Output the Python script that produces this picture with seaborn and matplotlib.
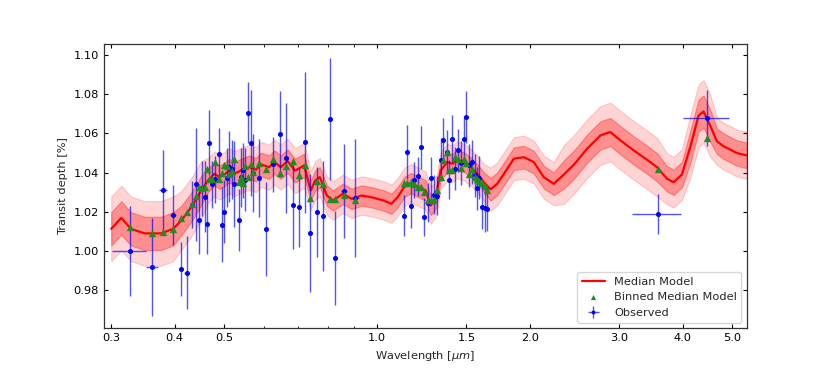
import numpy as np
import matplotlib
matplotlib.use('Agg')
import matplotlib.pyplot as plt
from matplotlib.ticker import FixedLocator, FormatStrFormatter, NullFormatter, LogLocator
import seaborn as sns

# Median retrieved model (wavelength in micron, transit depth in %)
model_wl = [0.300, 0.314, 0.328, 0.349, 0.376, 0.397, 0.412, 0.431, 0.451, 0.465,
            0.479, 0.490, 0.501, 0.512, 0.524, 0.540, 0.561, 0.578, 0.591, 0.614,
            0.628, 0.647, 0.667, 0.690, 0.719, 0.741, 0.756, 0.772, 0.797, 0.820,
            0.857, 0.892, 0.933, 0.977, 1.030, 1.068, 1.098, 1.131, 1.166, 1.210,
            1.247, 1.276, 1.305, 1.335, 1.376, 1.407, 1.439, 1.483, 1.529, 1.576,
            1.624, 1.674, 1.725, 1.778, 1.860, 1.946, 2.036, 2.130, 2.229, 2.332,
            2.440, 2.592, 2.753, 2.880, 3.014, 3.200, 3.400, 3.558, 3.722, 3.836,
            3.984, 4.136, 4.295, 4.393, 4.528, 4.667, 4.809, 4.957, 5.109, 5.345]
model_depth = [1.0113, 1.0169, 1.0113, 1.0090, 1.0090, 1.0113, 1.0155, 1.0223, 1.0309, 1.0360,
               1.0394, 1.0377, 1.0390, 1.0411, 1.0394, 1.0411, 1.0428, 1.0415, 1.0442, 1.0428,
               1.0454, 1.0428, 1.0459, 1.0410, 1.0437, 1.0309, 1.0360, 1.0377, 1.0283, 1.0258,
               1.0292, 1.0266, 1.0283, 1.0274, 1.0258, 1.0241, 1.0274, 1.0326, 1.0346, 1.0326,
               1.0309, 1.0232, 1.0266, 1.0411, 1.0454, 1.0445, 1.0466, 1.0454, 1.0428, 1.0394,
               1.0351, 1.0315, 1.0343, 1.0394, 1.0471, 1.0479, 1.0454, 1.0377, 1.0343, 1.0390,
               1.0440, 1.0522, 1.0590, 1.0607, 1.0565, 1.0514, 1.0466, 1.0428, 1.0369, 1.0351,
               1.0390, 1.0530, 1.0690, 1.0712, 1.0640, 1.0560, 1.0535, 1.0518, 1.0500, 1.0488]
# 1-sigma and 2-sigma half widths of the model
model_sig1 = [0.0085] * 6 + [0.0075] * 3 + [0.006] * 16 + [0.0052] * 16 + [0.005] * 10 + \
             [0.0058] * 8 + [0.0072] * 9 + [0.0065] * 3 + [0.0082] * 4 + [0.0065] * 5
model_sig2 = [0.0165] * 6 + [0.015] * 3 + [0.0115] * 16 + [0.0098] * 16 + [0.0094] * 10 + \
             [0.011] * 8 + [0.015] * 9 + [0.013] * 3 + [0.016] * 4 + [0.012] * 5

# Observed spectrum
obs_wl = [0.326, 0.361, 0.379, 0.397, 0.411, 0.422, 0.432, 0.441, 0.447, 0.452,
          0.458, 0.463, 0.468, 0.474, 0.480, 0.488, 0.496, 0.501, 0.507, 0.512,
          0.518, 0.524, 0.535, 0.540, 0.546, 0.551, 0.557, 0.566, 0.571, 0.585,
          0.605, 0.624, 0.644, 0.663, 0.683, 0.702, 0.722, 0.740, 0.761, 0.785,
          0.809, 0.828, 0.861, 0.907,
          1.131, 1.148, 1.166, 1.183, 1.203, 1.221, 1.240, 1.259, 1.278, 1.295,
          1.315, 1.335, 1.351, 1.372, 1.389, 1.408, 1.424, 1.447, 1.464, 1.482,
          1.500, 1.517, 1.541, 1.559, 1.576, 1.591, 1.609, 1.629, 1.646,
          3.573, 4.461]
obs_depth = [1.0000, 0.9916, 1.0309, 1.0184, 0.9910, 0.9890, 1.0237, 1.0340, 1.0157, 1.0320,
             1.0278, 1.0138, 1.0553, 1.0340, 1.0365, 1.0497, 1.0135, 1.0201, 1.0374, 1.0430,
             1.0416, 1.0340, 1.0159, 1.0377, 1.0411, 1.0364, 1.0706, 1.0553, 1.0397, 1.0373,
             1.0114, 1.0442, 1.0598, 1.0474, 1.0237, 1.0223, 1.0554, 1.0093, 1.0198, 1.0179,
             1.0674, 0.9964, 1.0305, 1.0270,
             1.0181, 1.0505, 1.0232, 1.0363, 1.0382, 1.0529, 1.0174, 1.0246, 1.0372, 1.0288,
             1.0283, 1.0466, 1.0568, 1.0505, 1.0363, 1.0573, 1.0420, 1.0514, 1.0449, 1.0571,
             1.0684, 1.0437, 1.0454, 1.0386, 1.0321, 1.0374, 1.0223, 1.0218, 1.0213,
             1.0189, 1.0679]
obs_err = [0.023, 0.025, 0.0205, 0.0154, 0.0138, 0.0188, 0.012, 0.0287, 0.017, 0.014,
           0.018, 0.0154, 0.0166, 0.012, 0.012, 0.013, 0.019, 0.016, 0.015, 0.018,
           0.015, 0.022, 0.016, 0.015, 0.014, 0.016, 0.0154, 0.027, 0.020, 0.020,
           0.024, 0.014, 0.022, 0.028, 0.0227, 0.020, 0.036, 0.030, 0.023, 0.028,
           0.031, 0.024, 0.024, 0.030,
           0.0105, 0.0138, 0.0113, 0.009, 0.010, 0.011, 0.0097, 0.010, 0.011, 0.010,
           0.010, 0.011, 0.011, 0.011, 0.010, 0.012, 0.011, 0.011, 0.011, 0.012,
           0.0133, 0.011, 0.011, 0.011, 0.011, 0.011, 0.011, 0.012, 0.0113,
           0.0102, 0.0143]
obs_wl_err = [0.025, 0.0095, 0.007, 0.005, 0.004, 0.004, 0.004] + [0.003] * 22 + \
             [0.004] * 9 + [0.005] * 4 + [0.012, 0.015] + [0.009] * 29 + [0.39, 0.46]

# Binned median model at the observed wavelengths
binned_depth = [1.0124, 1.0090, 1.0095, 1.0113, 1.0169, 1.0198, 1.0241, 1.0280, 1.0326, 1.0322,
                1.0329, 1.0420, 1.0365, 1.0369, 1.0454, 1.0369, 1.0397, 1.0437, 1.0432, 1.0394,
                1.0408, 1.0467, 1.0351, 1.0377, 1.0346, 1.0432, 1.0377, 1.0445, 1.0402, 1.0449,
                1.0416, 1.0467, 1.0397, 1.0432, 1.0457, 1.0386, 1.0437, 1.0269, 1.0355, 1.0340,
                1.0263, 1.0266, 1.0287, 1.0258,
                1.0346, 1.0346, 1.0351, 1.0340, 1.0329, 1.0326, 1.0300, 1.0258, 1.0261, 1.0258,
                1.0309, 1.0377, 1.0462, 1.0505, 1.0411, 1.0415, 1.0479, 1.0471, 1.0425, 1.0471,
                1.0449, 1.0394, 1.0420, 1.0377, 1.0369, 1.0356, 1.0346, 1.0334, 1.0309,
                1.0420, 1.0579]

xtick_vals = [0.3, 0.4, 0.5, 1.0, 1.5, 2.0, 3.0, 4.0, 5.0]
ytick_vals = [0.98, 1.00, 1.02, 1.04, 1.06, 1.08, 1.10]

sns.set_theme(style='ticks')
plt.rcParams['font.family'] = ['DejaVu Sans']
plt.rcParams['mathtext.fontset'] = 'dejavusans'

FS = 8.2

fig, ax = plt.subplots(figsize=(8.3, 3.69), dpi=100)
fig.subplots_adjust(left=0.125, right=0.9, top=0.88, bottom=0.11)
ax.set_xscale('log')

wl = np.array(model_wl)
med = np.array(model_depth)
s1 = np.array(model_sig1)
s2 = np.array(model_sig2)

ax.fill_between(wl, med - s2, med + s2, color='red', alpha=0.17, lw=0.8, zorder=1)
ax.fill_between(wl, med - s1, med + s1, color='red', alpha=0.33, lw=0.8, zorder=2)
sns.lineplot(x=wl, y=med, color='red', lw=1.6, label='Median Model', ax=ax, zorder=3)

ax.errorbar(obs_wl, obs_depth, yerr=obs_err, xerr=obs_wl_err, fmt='o', color='blue',
            ms=2.6, ecolor=(0, 0, 1, 0.68), elinewidth=1.0, capsize=0,
            label='Observed', zorder=4)

sns.scatterplot(x=obs_wl, y=binned_depth, marker='^', color='#228b22', s=28,
                linewidth=0, label='Binned Median Model', ax=ax, zorder=5)

ax.set_xlim(0.29, 5.35)
ax.set_ylim(0.9605, 1.1055)
ax.xaxis.set_major_locator(FixedLocator(xtick_vals))
ax.xaxis.set_major_formatter(FormatStrFormatter('%.1f'))
ax.xaxis.set_minor_locator(LogLocator(base=10, subs=np.arange(2, 10) * 0.1, numticks=20))
ax.xaxis.set_minor_formatter(NullFormatter())
ax.set_yticks(ytick_vals)
ax.yaxis.set_major_formatter(FormatStrFormatter('%.2f'))

ax.tick_params(which='both', direction='in', top=True, right=True,
               labelsize=FS, colors='black')
ax.tick_params(which='major', length=3, width=0.8)
ax.tick_params(which='minor', length=1.8, width=0.6)
for sp in ax.spines.values():
    sp.set_linewidth(0.9)
    sp.set_color('#333333')

ax.set_xlabel(r'Wavelength [$\mu m$]', fontsize=FS)
ax.set_ylabel('Transit depth [%]', fontsize=FS)

handles, labels = ax.get_legend_handles_labels()
order = [labels.index(k) for k in ['Median Model', 'Binned Median Model', 'Observed']]
ax.legend([handles[i] for i in order], [labels[i] for i in order],
          loc='lower right', fontsize=FS, markerscale=0.7, frameon=True)

plt.savefig('out.png', dpi=100)
plt.close()
